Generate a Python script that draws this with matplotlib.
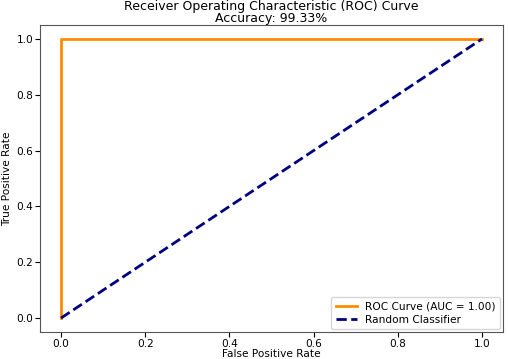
import matplotlib
matplotlib.use("Agg")
import matplotlib.pyplot as plt

fpr = [0.0, 0.0, 1.0]
tpr = [0.0, 1.0, 1.0]
rand_x = [0.0, 1.0]
rand_y = [0.0, 1.0]
auc_val = 1.00
accuracy = 99.33

fig = plt.figure(figsize=(5.08, 3.59), dpi=100)
ax = fig.add_axes([40/508, 1-332/359, (503-40)/508, (332-25)/359])
ax.plot(fpr, tpr, color='darkorange', lw=2, label=f'ROC Curve (AUC = {auc_val:.2f})')
ax.plot(rand_x, rand_y, color='navy', lw=2, linestyle='--', label='Random Classifier')
ax.set_xlabel('False Positive Rate', fontsize=7.6, labelpad=0)
ax.set_ylabel('True Positive Rate', fontsize=7.6, labelpad=3)
ax.set_title(f'Receiver Operating Characteristic (ROC) Curve\nAccuracy: {accuracy:.2f}%', fontsize=9, pad=1.5, linespacing=0.88)
ax.tick_params(labelsize=7.6, length=3.5, pad=1.2)
ax.legend(loc='lower right', fontsize=7.6, borderaxespad=0.3, labelspacing=0.3)
for s in ax.spines.values():
    s.set_color('#555555')
fig.savefig('out.png', dpi=100)
